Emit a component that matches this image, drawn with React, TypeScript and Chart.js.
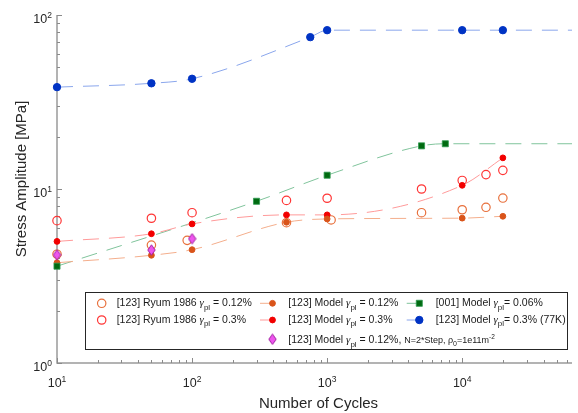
import { useEffect, useRef } from "react";
import { Chart, registerables } from "chart.js";

Chart.register(...registerables);

// ---- data (cycles, stress amplitude in MPa) ----
const ryum012Cycles = [10, 50, 92, 500, 1070, 5000, 10000, 15000, 20000];
const ryum012Stress = [4.22, 4.76, 5.07, 6.4, 6.64, 7.31, 7.6, 7.85, 8.87];

const ryum03Cycles = [10, 50, 100, 500, 1000, 5000, 10000, 15000, 20000];
const ryum03Stress = [6.58, 6.79, 7.31, 8.6, 8.85, 10.0, 11.2, 12.1, 12.8];

const model012Cycles = [10, 50, 100, 500, 1000, 10000, 20000];
const model012Stress = [3.77, 4.16, 4.48, 6.44, 6.73, 6.8, 6.97];

const model03Cycles = [10, 50, 100, 500, 1000, 10000, 20000];
const model03Stress = [5.0, 5.53, 6.3, 7.1, 7.1, 10.5, 15.1];

const model001Cycles = [10, 300, 1000, 5000, 7500];
const model001Stress = [3.6, 8.5, 12.0, 17.7, 18.2];

const model77KCycles = [10, 50, 100, 750, 1000, 10000, 20000];
const model77KStress = [38.5, 40.5, 43, 74.6, 81.8, 81.8, 81.8];

const stepCycles = [10, 50, 100];
const stepStress = [4.18, 4.46, 5.18];

// ---- axes ----
const xMin = 10;
const xMax = 65000;
const yMin = 1;
const yMax = 100;
const xDecades = [10, 100, 1000, 10000];
const yDecades = [1, 10, 100];
const xTitle = "Number of Cycles";
const yTitle = "Stress Amplitude [MPa]";

const FONT = "'Liberation Sans', Arial, Helvetica, sans-serif";
const SERIF = "'Liberation Serif', 'DejaVu Serif', serif";
const TEXT = "#262626";
const AXIS = "#9a9a9a";

type Shape = "circle" | "square" | "diamond";
type MarkStyle = { shape: Shape; r: number; fill: string; stroke: string; lw: number };

const sRyum012: MarkStyle = { shape: "circle", r: 4.2, fill: "rgba(0,0,0,0)", stroke: "#E8703C", lw: 1.2 };
const sRyum03: MarkStyle = { shape: "circle", r: 4.2, fill: "rgba(0,0,0,0)", stroke: "#FF3535", lw: 1.2 };
const sModel012: MarkStyle = { shape: "circle", r: 2.9, fill: "#D9541A", stroke: "#D9541A", lw: 1 };
const sModel03: MarkStyle = { shape: "circle", r: 2.9, fill: "#F20000", stroke: "#F20000", lw: 1 };
const sModel001: MarkStyle = { shape: "square", r: 4.3, fill: "#006A10", stroke: "#2E9A50", lw: 0.8 };
const sModel77K: MarkStyle = { shape: "circle", r: 3.7, fill: "#0033C4", stroke: "#0033C4", lw: 1 };
const sStep: MarkStyle = { shape: "diamond", r: 5, fill: "#EE55EE", stroke: "#A020A0", lw: 1 };

const line012 = "#F4AE8C";
const line03 = "#FF9A9A";
const line001 = "#80C49C";
const line77K = "#8AA6EC";

// ---- legend text ----
type Seg = { t: string; size: number; dy?: number; font?: string };

const gammaLabel = (before: string, after: string): Seg[] => [
  { t: before, size: 10.5 },
  { t: "γ", size: 11, font: `italic 11px ${SERIF}` },
  { t: "pl", size: 8, dy: 3.5 },
  { t: after, size: 10.5 },
];

const labelRyum012 = gammaLabel("[123] Ryum 1986 ", " = 0.12%");
const labelRyum03 = gammaLabel("[123] Ryum 1986 ", " = 0.3%");
const labelModel012 = gammaLabel("[123] Model ", " = 0.12%");
const labelModel03 = gammaLabel("[123] Model ", " = 0.3%");
const labelModel001 = gammaLabel("[001] Model ", "= 0.06%");
const labelModel77K = gammaLabel("[123] Model ", "= 0.3% (77K)");
const labelStep: Seg[] = [
  ...gammaLabel("[123] Model ", " = 0.12%, "),
  { t: "N=2*Step, ρ", size: 9 },
  { t: "0", size: 7, dy: 2.5 },
  { t: "=1e11m", size: 9 },
  { t: "-2", size: 6.5, dy: -4 },
];

const pts = (xs: number[], ys: number[]) => xs.map((x, i) => ({ x, y: ys[i] }));

function makeDiamond(st: MarkStyle): HTMLCanvasElement {
  const w = 9;
  const h = 12;
  const c = document.createElement("canvas");
  c.width = w;
  c.height = h;
  const g = c.getContext("2d")!;
  g.beginPath();
  g.moveTo(w / 2, 0.8);
  g.lineTo(w - 0.8, h / 2);
  g.lineTo(w / 2, h - 0.8);
  g.lineTo(0.8, h / 2);
  g.closePath();
  g.fillStyle = st.fill;
  g.fill();
  g.strokeStyle = st.stroke;
  g.lineWidth = st.lw;
  g.stroke();
  return c;
}

function drawMarker(ctx: CanvasRenderingContext2D, st: MarkStyle, x: number, y: number, diamond: HTMLCanvasElement) {
  if (st.shape === "diamond") {
    ctx.drawImage(diamond, x - diamond.width / 2, y - diamond.height / 2);
    return;
  }
  ctx.beginPath();
  if (st.shape === "circle") {
    ctx.arc(x, y, st.r, 0, Math.PI * 2);
  } else {
    const s = st.r * Math.SQRT1_2;
    ctx.rect(x - s, y - s, 2 * s, 2 * s);
  }
  ctx.fillStyle = st.fill;
  ctx.fill();
  ctx.strokeStyle = st.stroke;
  ctx.lineWidth = st.lw;
  ctx.stroke();
}

function drawRich(ctx: CanvasRenderingContext2D, segs: Seg[], x: number, y: number) {
  let cx = x;
  ctx.textAlign = "left";
  ctx.textBaseline = "alphabetic";
  for (const s of segs) {
    ctx.font = s.font ?? `${s.size}px ${FONT}`;
    ctx.fillText(s.t, cx, y + (s.dy ?? 0));
    cx += ctx.measureText(s.t).width;
  }
}

function curve(xs: number[], ys: number[], color: string, extend: boolean) {
  const data = pts(xs, ys);
  if (extend) data.push({ x: xMax, y: ys[ys.length - 1] });
  return {
    data,
    showLine: true,
    borderColor: color,
    borderWidth: 1,
    borderDash: [16, 10],
    pointRadius: 0,
    pointHoverRadius: 0,
    cubicInterpolationMode: "monotone" as const,
    fill: false,
    clip: false as const,
    order: 10,
  };
}

function markers(xs: number[], ys: number[], st: MarkStyle, order: number, diamond: HTMLCanvasElement) {
  return {
    data: pts(xs, ys),
    showLine: false,
    pointStyle: st.shape === "diamond" ? diamond : st.shape === "square" ? "rect" : "circle",
    pointRadius: st.r,
    pointHoverRadius: st.r,
    pointBackgroundColor: st.fill,
    pointBorderColor: st.stroke,
    pointBorderWidth: st.lw,
    clip: false as const,
    order,
  };
}

const axesPlugin = {
  id: "paperAxes",
  beforeDatasetsDraw(chart: any) {
    const { ctx, chartArea: a } = chart;
    const xs = chart.scales.x;
    const ys = chart.scales.y;
    ctx.save();
    ctx.strokeStyle = AXIS;
    ctx.lineWidth = 1.5;
    ctx.beginPath();
    ctx.moveTo(a.left, a.top);
    ctx.lineTo(a.left, a.bottom);
    ctx.lineTo(a.right, a.bottom);
    ctx.stroke();

    ctx.lineWidth = 1;
    ctx.strokeStyle = "#8a8a8a";
    ctx.beginPath();
    for (let d = xMin; d < xMax; d *= 10) {
      for (let m = 1; m <= 9; m++) {
        const v = m * d;
        if (v > xMax) break;
        const px = Math.round(xs.getPixelForValue(v)) + 0.5;
        const len = m === 1 ? 5 : 3;
        ctx.moveTo(px, a.bottom);
        ctx.lineTo(px, a.bottom - len);
      }
    }
    for (let d = yMin; d <= yMax; d *= 10) {
      for (let m = 1; m <= 9; m++) {
        const v = m * d;
        if (v > yMax) break;
        const py = Math.round(ys.getPixelForValue(v)) + 0.5;
        const len = m === 1 ? 5 : 3;
        ctx.moveTo(a.left, py);
        ctx.lineTo(a.left + len, py);
      }
    }
    ctx.stroke();

    // tick labels with exponents
    ctx.fillStyle = TEXT;
    ctx.textBaseline = "alphabetic";
    ctx.textAlign = "left";
    const baseFont = `12.5px ${FONT}`;
    const expFont = `8.5px ${FONT}`;
    for (const d of xDecades) {
      const exp = String(Math.round(Math.log10(d)));
      ctx.font = baseFont;
      const wb = ctx.measureText("10").width;
      ctx.font = expFont;
      const we = ctx.measureText(exp).width;
      const px = xs.getPixelForValue(d);
      const x0 = px - (wb + we) / 2;
      const base = a.bottom + 24;
      ctx.font = baseFont;
      ctx.fillText("10", x0, base);
      ctx.font = expFont;
      ctx.fillText(exp, x0 + wb, base - 5.5);
    }
    for (const d of yDecades) {
      const exp = String(Math.round(Math.log10(d)));
      ctx.font = baseFont;
      const wb = ctx.measureText("10").width;
      ctx.font = expFont;
      const we = ctx.measureText(exp).width;
      const py = ys.getPixelForValue(d);
      const x0 = a.left - 5 - wb - we;
      const base = py + 8;
      ctx.font = baseFont;
      ctx.fillText("10", x0, base);
      ctx.font = expFont;
      ctx.fillText(exp, x0 + wb, base - 5.5);
    }

    // axis titles
    ctx.font = `15px ${FONT}`;
    ctx.textAlign = "center";
    ctx.fillText(xTitle, (a.left + a.right) / 2 + 4, a.bottom + 44.5);
    ctx.save();
    ctx.translate(26, 179);
    ctx.rotate(-Math.PI / 2);
    ctx.fillText(yTitle, 0, 0);
    ctx.restore();
    ctx.restore();
  },
};

function legendPlugin(diamond: HTMLCanvasElement) {
  return {
    id: "paperLegend",
    afterDatasetsDraw(chart: any) {
      const { ctx, chartArea: a } = chart;
      const L = a.left + 28;
      const T = a.bottom - 71;
      const W = 482;
      const H = 57;
      ctx.save();
      ctx.fillStyle = "#ffffff";
      ctx.fillRect(L, T, W, H);
      ctx.strokeStyle = "#262626";
      ctx.lineWidth = 1;
      ctx.strokeRect(L + 0.5, T + 0.5, W, H);

      const rowsBase = [T + 14, T + 30.5, T + 51];
      const rowsMark = [T + 11.3, T + 28, T + 47.3];

      const sample = (x0: number, x1: number, y: number, color: string) => {
        ctx.strokeStyle = color;
        ctx.lineWidth = 1;
        ctx.beginPath();
        ctx.moveTo(x0, y);
        ctx.lineTo(x1, y);
        ctx.stroke();
      };

      // column 1
      drawMarker(ctx, sRyum012, L + 16.7, rowsMark[0], diamond);
      drawMarker(ctx, sRyum03, L + 16.7, rowsMark[1], diamond);
      // column 2
      sample(L + 175, L + 187.5, rowsMark[0], line012);
      drawMarker(ctx, sModel012, L + 187.5, rowsMark[0], diamond);
      sample(L + 175, L + 187.5, rowsMark[1], line03);
      drawMarker(ctx, sModel03, L + 187.5, rowsMark[1], diamond);
      drawMarker(ctx, sStep, L + 187.5, rowsMark[2], diamond);
      // column 3
      sample(L + 321.7, L + 334.3, rowsMark[0], line001);
      drawMarker(ctx, sModel001, L + 334.3, rowsMark[0], diamond);
      sample(L + 321.7, L + 334.3, rowsMark[1], line77K);
      drawMarker(ctx, sModel77K, L + 334.3, rowsMark[1], diamond);

      ctx.fillStyle = "#1a1a1a";
      drawRich(ctx, labelRyum012, L + 31.7, rowsBase[0]);
      drawRich(ctx, labelRyum03, L + 31.7, rowsBase[1]);
      drawRich(ctx, labelModel012, L + 203.3, rowsBase[0]);
      drawRich(ctx, labelModel03, L + 203.3, rowsBase[1]);
      drawRich(ctx, labelStep, L + 203.3, rowsBase[2]);
      drawRich(ctx, labelModel001, L + 350.7, rowsBase[0]);
      drawRich(ctx, labelModel77K, L + 350.7, rowsBase[1]);
      ctx.restore();
    },
  };
}

export default function App() {
  const ref = useRef<HTMLCanvasElement>(null);

  useEffect(() => {
    const canvas = ref.current;
    if (!canvas) return;
    const diamond = makeDiamond(sStep);
    const chart = new Chart(canvas, {
      type: "scatter",
      data: {
        datasets: [
          markers(stepCycles, stepStress, sStep, 0, diamond),
          markers(model001Cycles, model001Stress, sModel001, 1, diamond),
          markers(model012Cycles, model012Stress, sModel012, 2, diamond),
          markers(model03Cycles, model03Stress, sModel03, 3, diamond),
          markers(model77KCycles, model77KStress, sModel77K, 4, diamond),
          markers(ryum012Cycles, ryum012Stress, sRyum012, 5, diamond),
          markers(ryum03Cycles, ryum03Stress, sRyum03, 6, diamond),
          curve(model012Cycles, model012Stress, line012, false),
          curve(model03Cycles, model03Stress, line03, false),
          curve(model001Cycles, model001Stress, line001, true),
          curve(model77KCycles, model77KStress, line77K, true),
        ] as any,
      },
      options: {
        animation: false,
        responsive: false,
        devicePixelRatio: 1,
        events: [],
        layout: { padding: { left: 57, top: 15, right: 0, bottom: 50 } },
        plugins: { legend: { display: false }, tooltip: { enabled: false } },
        scales: {
          x: { type: "logarithmic", min: xMin, max: xMax, bounds: "data", display: false },
          y: { type: "logarithmic", min: yMin, max: yMax, bounds: "data", display: false },
        },
      },
      plugins: [axesPlugin, legendPlugin(diamond)],
    });
    return () => chart.destroy();
  }, []);

  return (
    <div style={{ position: "fixed", left: 0, top: 0, width: 578, height: 413, background: "#ffffff" }}>
      <canvas ref={ref} width={578} height={413} style={{ display: "block", width: 578, height: 413 }} />
    </div>
  );
}
